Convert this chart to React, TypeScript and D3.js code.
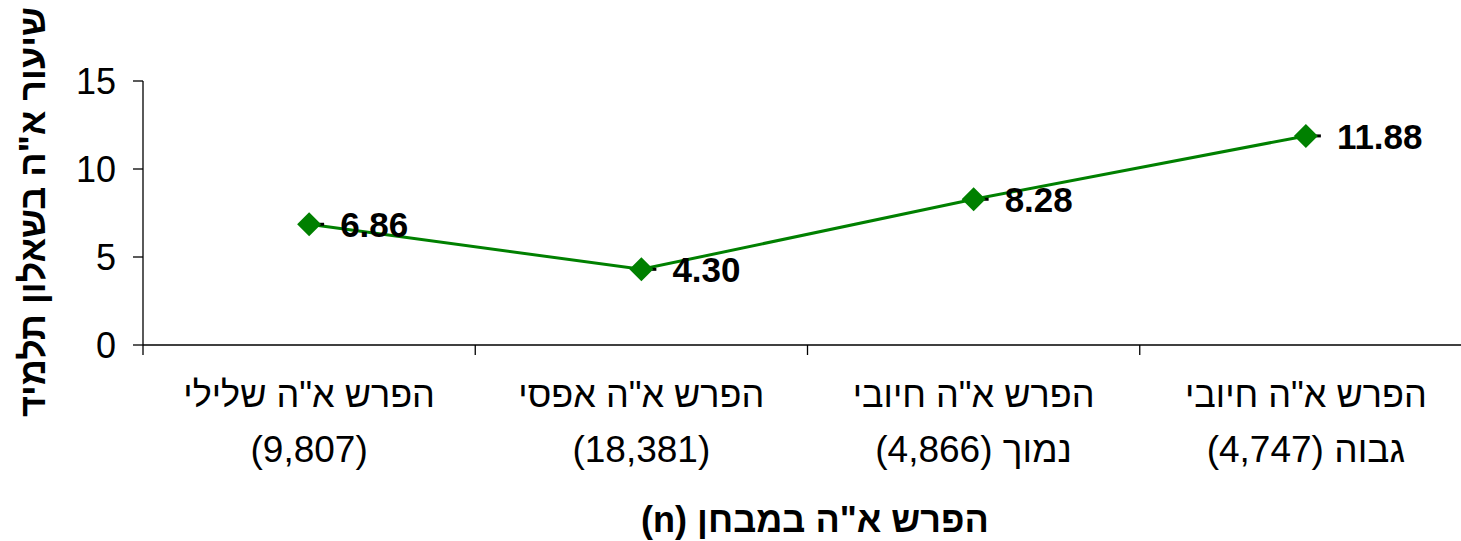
import React from "react";
import * as d3 from "d3";

const categoriesLine1 = ["הפרש א\"ה  שלילי", "הפרש א\"ה אפסי", "הפרש א\"ה חיובי", "הפרש א\"ה חיובי"];
const categoriesLine2 = ["(9,807)", "(18,381)", "נמוך (4,866)", "גבוה (4,747)"];
const values = [6.86, 4.3, 8.28, 11.88];
const yTicks = [0, 5, 10, 15];
const yTitle = "שיעור א\"ה בשאלון תלמיד";
const xTitle = "הפרש א\"ה במבחן (n)";

const W = 1461;
const H = 541;
const left = 143;
const right = 1472;
const top = 81;
const bottom = 345;
const green = "#008000";
const font = "'Liberation Sans', Arial, sans-serif";

export default function App() {
  const x = d3.scaleBand<number>().domain(values.map((_, i) => i)).range([left, right]);
  const y = d3.scaleLinear().domain([0, 15]).range([bottom, top]);
  const cx = (i: number) => (x(i) as number) + x.bandwidth() / 2;
  const line = d3
    .line<number>()
    .x((_, i) => cx(i))
    .y((d) => y(d));
  const boundaries = values.map((_, i) => x(i) as number).concat([right]);

  return (
    <svg width={W} height={H} style={{ position: "absolute", left: 0, top: 0, background: "#fff" }}>
      <rect x={0} y={0} width={W} height={H} fill="#fff" />
      {/* y axis */}
      <line x1={left} x2={left} y1={top} y2={bottom} stroke="#000" strokeWidth={1.3} />
      {yTicks.map((t) => (
        <g key={t}>
          <line x1={left - 10} x2={left} y1={y(t)} y2={y(t)} stroke="#000" strokeWidth={1.3} />
          <text
            x={left - 27}
            y={y(t)}
            dy="0.36em"
            textAnchor="end"
            fontFamily={font}
            fontSize={36}
            fill="#000"
          >
            {t}
          </text>
        </g>
      ))}
      {/* x axis */}
      <line x1={left} x2={right} y1={bottom} y2={bottom} stroke="#000" strokeWidth={1.3} />
      {boundaries.map((b, i) => (
        <line key={i} x1={b} x2={b} y1={bottom} y2={bottom + 10} stroke="#000" strokeWidth={1.3} />
      ))}
      {categoriesLine1.map((c, i) => (
        <g key={i}>
          <text
            x={cx(i)}
            y={407}
            textAnchor="middle"
            direction="rtl"
            fontFamily={font}
            fontSize={36}
            fill="#000"
          >
            {c}
          </text>
          <text
            x={cx(i)}
            y={462}
            textAnchor="middle"
            direction="rtl"
            fontFamily={font}
            fontSize={37}
            fill="#000"
          >
            {categoriesLine2[i]}
          </text>
        </g>
      ))}
      {/* line */}
      <path d={line(values) || ""} fill="none" stroke={green} strokeWidth={3} />
      {values.map((v, i) => (
        <g key={i}>
          <line x1={cx(i) + 10} x2={cx(i) + 15} y1={y(v)} y2={y(v)} stroke="#000" strokeWidth={3} />
          <path
            d={`M${cx(i)},${y(v) - 12}L${cx(i) + 12},${y(v)}L${cx(i)},${y(v) + 12}L${cx(i) - 12},${y(v)}Z`}
            fill={green}
          />
          <text
            x={cx(i) + 31}
            y={y(v)}
            dy="0.36em"
            fontFamily={font}
            fontWeight="bold"
            fontSize={35}
            fill="#000"
          >
            {v.toFixed(2)}
          </text>
        </g>
      ))}
      {/* titles */}
      <text
        transform={`translate(32,212) rotate(-90)`}
        textAnchor="middle"
        dy="0.36em"
        direction="rtl"
        fontFamily={font}
        fontWeight="bold"
        fontSize={36}
        fill="#000"
      >
        {yTitle}
      </text>
      <text
        x={815}
        y={532}
        textAnchor="middle"
        direction="rtl"
        fontFamily={font}
        fontWeight="bold"
        fontSize={36}
        fill="#000"
      >
        {xTitle}
      </text>
    </svg>
  );
}
